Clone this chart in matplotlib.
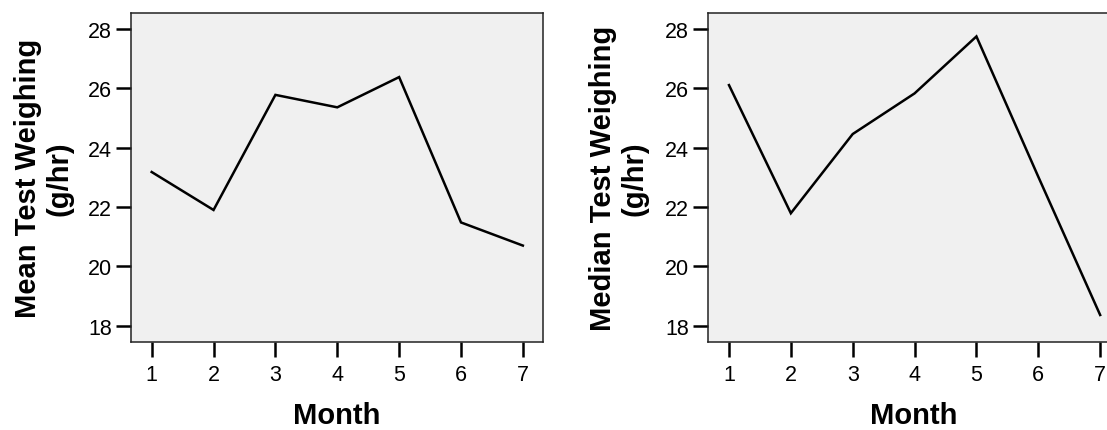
import numpy as np
import matplotlib
matplotlib.use('Agg')
import matplotlib.pyplot as plt

plt.rcParams['font.family'] = ['Liberation Sans', 'DejaVu Sans']

#monthly test weighing values (g/hr)
months = [1, 2, 3, 4, 5, 6, 7]
mean_weigh = [23.18, 21.90, 25.78, 25.36, 26.38, 21.48, 20.70]
median_weigh = [26.11, 21.79, 24.46, 25.83, 27.75, 23.02, 18.36]
yticks = [18, 20, 22, 24, 26, 28]

fig = plt.figure(figsize=(11.07, 4.31), dpi=100)

panels = [
    (mean_weigh, 'Mean Test Weighing\n(g/hr)', 0.1183, 10),
    (median_weigh, 'Median Test Weighing\n(g/hr)', 0.6398, 12),
]

for vals, ylab, left, lpad in panels:
    ax = fig.add_axes([left, 0.2049, 0.3719, 0.7626])
    ax.set_facecolor('#f0f0f0')
    ax.plot(months, vals, color='black', lw=1.8, solid_joinstyle='miter')
    ax.set_xlim(0.665, 7.32)
    ax.set_ylim(17.46, 28.54)
    ax.set_xticks(months)
    ax.set_yticks(yticks)
    for s in ax.spines.values():
        s.set_color('#222222')
        s.set_linewidth(1.1)
    ax.tick_params(axis='both', length=10.8, width=1.8, color='black',
                   labelsize=15.5, labelcolor='black')
    ax.tick_params(axis='x', pad=5)
    ax.tick_params(axis='y', pad=3)
    ax.set_xlabel('Month', fontsize=21, fontweight='bold', labelpad=12)
    ax.set_ylabel(ylab, fontsize=21, fontweight='bold', labelpad=lpad,
                  linespacing=1.15)

fig.savefig('out.png', dpi=100)
